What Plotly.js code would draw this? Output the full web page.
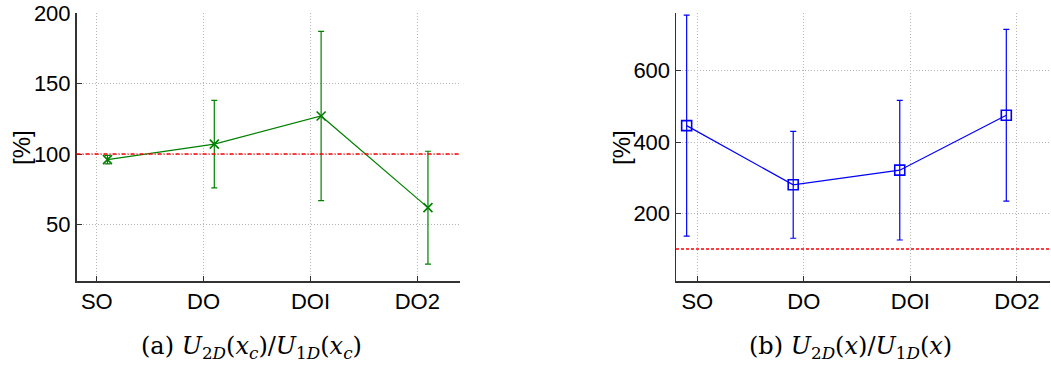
<!DOCTYPE html>
<html>
<head>
<meta charset="utf-8">
<script src="https://cdn.plot.ly/plotly-3.0.1.min.js"></script>
<style>html,body{margin:0;padding:0;background:#fff;}#chart{width:1051px;height:367px;}</style>
</head>
<body>
<div id="chart"></div>
<script>
// ---- data ----
const categories = ["SO", "DO", "DOI", "DO2"];
const categoryPos = [1, 2, 3, 4];
// panel (a): U2D(xc)/U1D(xc), points shifted right of the category
const xA = [1.1, 2.1, 3.1, 4.1];
const valuesA = [96, 107, 127, 62];
const errorsA = [3, 31, 60, 40];
// panel (b): U2D(x)/U1D(x), points shifted left of the category
const xB = [0.9, 1.9, 2.9, 3.9];
const valuesB = [446, 280, 321, 475];
const errorsB = [310, 150, 196, 241];
const reference = 100;
const yTicksA = [50, 100, 150, 200];
const yTicksB = [200, 400, 600];

const W = 1051, H = 367;
const font = {family: "Liberation Sans, Arial, Helvetica, sans-serif", size: 22, color: "#000"};
const titleFont = {family: "Liberation Sans, Arial, Helvetica, sans-serif", size: 24, color: "#000"};
const gridColor = "#b4b4b4";

function xaxisCfg(domain, range, anchor) {
  return {
    domain: domain, range: range, anchor: anchor,
    tickmode: "array", tickvals: categoryPos, ticktext: categories,
    showgrid: true, gridcolor: gridColor, griddash: "1px,2px", gridwidth: 1,
    showline: true, linecolor: "#333", linewidth: 1.5, mirror: false,
    ticks: "inside", ticklen: 5, tickcolor: "#333",
    zeroline: false, tickfont: font, fixedrange: true
  };
}
function yaxisCfg(domain, range, tickvals, anchor) {
  return {
    domain: domain, range: range, anchor: anchor,
    tickmode: "array", tickvals: tickvals,
    showgrid: true, gridcolor: gridColor, griddash: "1px,2px", gridwidth: 1,
    showline: true, linecolor: "#333", linewidth: 1.5, mirror: false,
    ticks: "inside", ticklen: 5, tickcolor: "#333",
    zeroline: false, tickfont: font, fixedrange: true
  };
}

const yDom = [86 / H, 354 / H];

const traces = [
  {
    x: xA, y: valuesA, xaxis: "x", yaxis: "y",
    type: "scatter", mode: "lines+markers",
    line: {color: "#008000", width: 1.2},
    marker: {symbol: "x-thin-open", size: 9, color: "#008000", line: {color: "#008000", width: 1.6}},
    error_y: {type: "data", array: errorsA, visible: true, color: "#008000", thickness: 1.2, width: 3},
    showlegend: false, hoverinfo: "skip"
  },
  {
    x: xB, y: valuesB, xaxis: "x2", yaxis: "y2",
    type: "scatter", mode: "lines+markers",
    line: {color: "#0000ff", width: 1.2},
    marker: {symbol: "square-open", size: 10, color: "#0000ff", line: {color: "#0000ff", width: 1.6}},
    error_y: {type: "data", array: errorsB, visible: true, color: "#0000ff", thickness: 1.2, width: 3},
    showlegend: false, hoverinfo: "skip"
  }
];

const captionFont = {family: "DejaVu Serif, Liberation Serif, serif", size: 24, color: "#000"};

const layout = {
  width: W, height: H,
  margin: {l: 0, r: 0, t: 0, b: 0},
  paper_bgcolor: "#fff", plot_bgcolor: "#fff",
  showlegend: false,
  xaxis: xaxisCfg([76.5 / W, 460 / W], [0.81, 4.4], "y"),
  yaxis: yaxisCfg(yDom, [10, 200], yTicksA, "x"),
  xaxis2: xaxisCfg([676 / W, 1050 / W], [0.8, 4.31], "y2"),
  yaxis2: yaxisCfg(yDom, [10, 762], yTicksB, "x2"),
  shapes: [
    {type: "line", xref: "x domain", yref: "y", x0: 0, x1: 1, y0: reference, y1: reference,
     line: {color: "#ff0000", width: 1.5, dash: "4px,2px,1px,2px"}},
    {type: "line", xref: "x2 domain", yref: "y2", x0: 0, x1: 1, y0: reference, y1: reference,
     line: {color: "#ff0000", width: 1.5, dash: "3px,2px"}}
  ],
  annotations: [
    {xref: "paper", yref: "paper", x: 22 / W, y: (H - 148) / H, xanchor: "center", yanchor: "middle",
     textangle: -90, showarrow: false, font: titleFont, text: "[%]"},
    {xref: "paper", yref: "paper", x: 622 / W, y: (H - 148) / H, xanchor: "center", yanchor: "middle",
     textangle: -90, showarrow: false, font: titleFont, text: "[%]"},
    {xref: "paper", yref: "paper", x: 251 / W, y: (H - 347) / H, xanchor: "center", yanchor: "middle",
     showarrow: false, font: captionFont,
     text: "(a) <i>U</i><sub>2<i>D</i></sub>(<i>x</i><sub><i>c</i></sub>)/<i>U</i><sub>1<i>D</i></sub>(<i>x</i><sub><i>c</i></sub>)"},
    {xref: "paper", yref: "paper", x: 850 / W, y: (H - 347) / H, xanchor: "center", yanchor: "middle",
     showarrow: false, font: captionFont,
     text: "(b) <i>U</i><sub>2<i>D</i></sub>(<i>x</i>)/<i>U</i><sub>1<i>D</i></sub>(<i>x</i>)"}
  ]
};

Plotly.newPlot("chart", traces, layout, {staticPlot: true, displayModeBar: false});
</script>
</body>
</html>
